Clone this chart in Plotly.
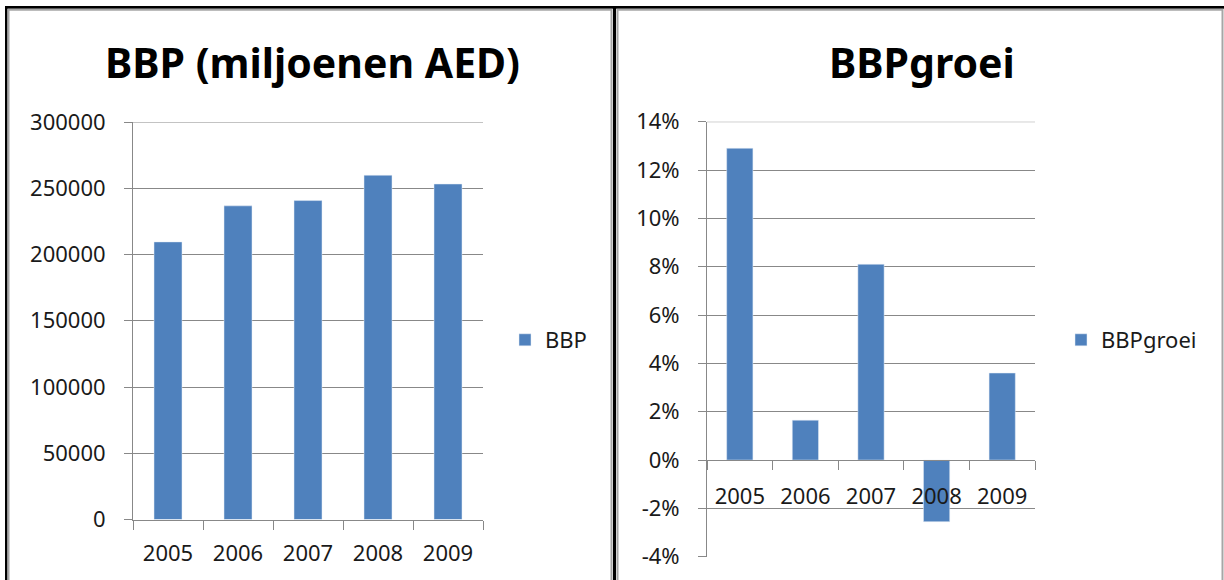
import plotly.graph_objects as go

years = ["2005", "2006", "2007", "2008", "2009"]
bbp = [209500, 236700, 240700, 259800, 253200]
bbp_groei = [12.9, 1.65, 8.1, -2.55, 3.6]

bbp_ticks = [0, 50000, 100000, 150000, 200000, 250000, 300000]
groei_ticks = [-4, -2, 0, 2, 4, 6, 8, 10, 12, 14]
groei_labels = [f"{t}%" for t in groei_ticks]

W, H = 1224, 580
blue = "#4F81BD"
grid = "#888888"
font = "Noto Sans"


def px_x(p):
    return p / W


def px_y(p):
    return 1 - p / H


fig = go.Figure()
fig.add_trace(go.Bar(x=years, y=bbp, name="BBP", marker_color=blue,
                     xaxis="x", yaxis="y", legend="legend"))
fig.add_trace(go.Bar(x=years, y=bbp_groei, name="BBPgroei", marker_color=blue,
                     xaxis="x2", yaxis="y2", legend="legend2"))

tick_font = dict(family=font, size=22, color="#1a1a1a")

fig.update_layout(
    width=W, height=H,
    margin=dict(l=0, r=0, t=0, b=0, pad=0, autoexpand=False),
    paper_bgcolor="white", plot_bgcolor="white",
    bargap=0.6,
    xaxis=dict(domain=[px_x(133), px_x(483)], anchor="y", showgrid=False,
               showline=True, linecolor=grid, ticks="outside", tickson="boundaries",
               ticklen=9, tickcolor=grid, tickfont=tick_font, ticklabelstandoff=14,
               automargin=False),
    yaxis=dict(domain=[px_y(519.5), px_y(122)], anchor="x",
               range=[bbp_ticks[0], bbp_ticks[-1]],
               tickvals=bbp_ticks, tickformat="d", showgrid=True, gridcolor=grid,
               showline=True, linecolor=grid, zeroline=False, ticks="outside",
               ticklen=8, tickcolor=grid, tickfont=tick_font, ticklabelstandoff=14,
               automargin=False),
    xaxis2=dict(domain=[px_x(707), px_x(1035)], anchor="free", position=px_y(460.3),
                showgrid=False, showline=True, linecolor=grid, ticks="outside",
                tickson="boundaries", ticklen=9, tickcolor=grid, tickfont=tick_font,
                ticklabelstandoff=16, automargin=False),
    yaxis2=dict(domain=[px_y(556.7), px_y(121.7)], anchor="x2",
                range=[groei_ticks[0], groei_ticks[-1]],
                tickvals=groei_ticks, ticktext=groei_labels, showgrid=True,
                gridcolor=grid, showline=True, linecolor=grid, zeroline=False,
                ticks="outside", ticklen=8, tickcolor=grid, tickfont=tick_font,
                ticklabelstandoff=14, automargin=False),
    legend=dict(x=px_x(505), y=px_y(340), xanchor="left", yanchor="middle",
                font=tick_font, bgcolor="rgba(0,0,0,0)"),
    legend2=dict(x=px_x(1061), y=px_y(340), xanchor="left", yanchor="middle",
                 font=tick_font, bgcolor="rgba(0,0,0,0)"),
    showlegend=True,
)

# plotly leaves out the gridline at the very top of the range, so add it back
fig.add_shape(type="line", xref="x domain", yref="y", x0=0, x1=1,
              y0=bbp_ticks[-1], y1=bbp_ticks[-1], line=dict(color=grid, width=1))
fig.add_shape(type="line", xref="x2 domain", yref="y2", x0=0, x1=1,
              y0=groei_ticks[-1], y1=groei_ticks[-1], line=dict(color=grid, width=1))

title_font = dict(family=font, size=41, color="black")
fig.add_annotation(text="<b>BBP (miljoenen AED)</b>", x=px_x(312), y=px_y(62),
                   xref="paper", yref="paper", showarrow=False, font=title_font,
                   xanchor="center", yanchor="middle")
fig.add_annotation(text="<b>BBPgroei</b>", x=px_x(922), y=px_y(62),
                   xref="paper", yref="paper", showarrow=False, font=title_font,
                   xanchor="center", yanchor="middle")

# frame around the two panels
black = dict(type="rect", xref="paper", yref="paper", line_width=0, fillcolor="black")
fig.add_shape(**black, x0=px_x(5), x1=1, y0=px_y(8.7), y1=px_y(6))
fig.add_shape(**black, x0=px_x(5), x1=px_x(7.5), y0=0, y1=px_y(6))
fig.add_shape(**black, x0=px_x(613), x1=px_x(616), y0=0, y1=px_y(6))
gray = dict(type="rect", xref="paper", yref="paper", line=dict(color="#a6a6a6", width=2))
fig.add_shape(**gray, x0=px_x(8.5), x1=px_x(611.5), y0=px_y(590), y1=px_y(9.7))
fig.add_shape(**gray, x0=px_x(617.5), x1=px_x(1222.5), y0=px_y(590), y1=px_y(9.7))

fig.write_html("out.html", config={"displayModeBar": False},
               post_script="document.body.style.margin='0px';")
